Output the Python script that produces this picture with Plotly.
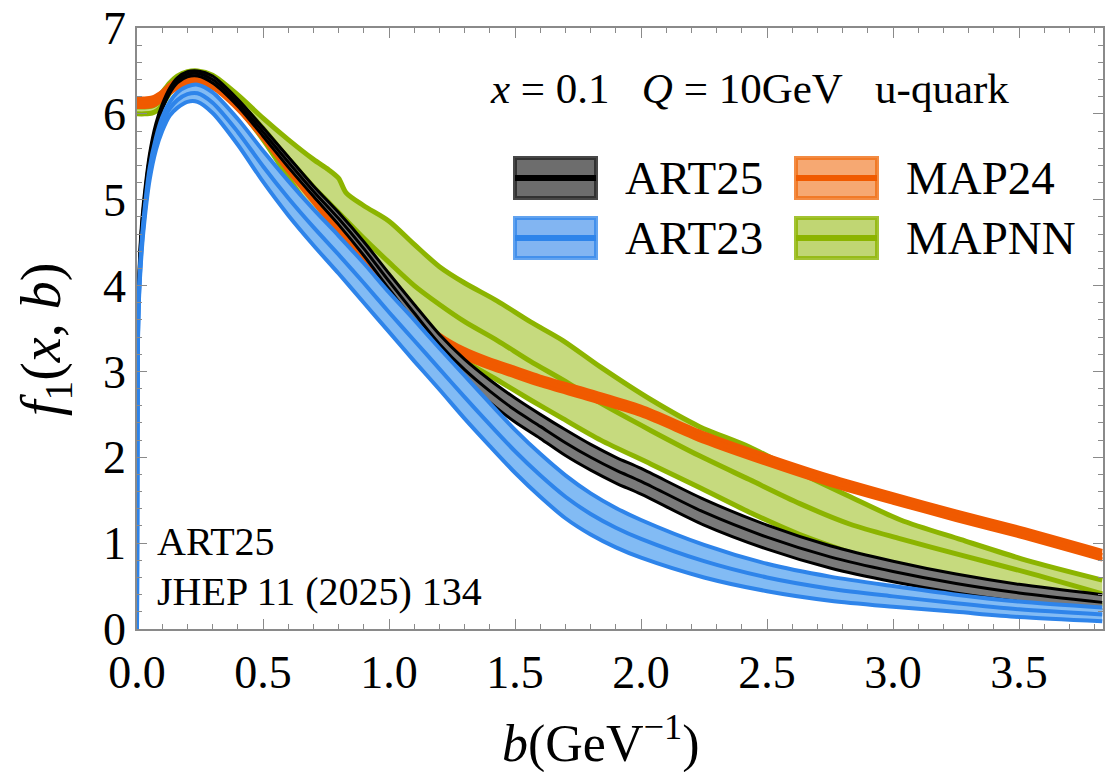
import plotly.graph_objects as go

# ---------------- data ----------------
b_art = [0, 0.003, 0.008, 0.015, 0.025, 0.05, 0.075, 0.1, 0.13, 0.16, 0.2, 0.24, 0.3, 0.4, 0.5,
         0.6, 0.7, 0.8, 0.9, 1.0, 1.1, 1.2, 1.3, 1.4, 1.5, 1.6, 1.7, 1.8, 1.9, 2.0, 2.25, 2.5,
         2.75, 3.0, 3.25, 3.5, 3.83]

art25_c = [0, 3.4, 4.1, 4.55, 4.9, 5.5, 5.85, 6.08, 6.27, 6.39, 6.46, 6.47, 6.40, 6.13, 5.79,
           5.44, 5.10, 4.78, 4.43, 4.05, 3.68, 3.32, 3.02, 2.77, 2.55, 2.36, 2.17, 2.00, 1.85,
           1.72, 1.36, 1.07, 0.84, 0.67, 0.53, 0.42, 0.31]
art25_hi = [0, 3.45, 4.15, 4.6, 4.95, 5.54, 5.89, 6.11, 6.30, 6.42, 6.49, 6.50, 6.44, 6.17, 5.84,
            5.50, 5.16, 4.85, 4.51, 4.14, 3.78, 3.43, 3.14, 2.90, 2.69, 2.50, 2.32, 2.15, 2.00,
            1.87, 1.51, 1.21, 0.97, 0.79, 0.64, 0.52, 0.40]
art25_lo = [0, 3.35, 4.05, 4.5, 4.85, 5.46, 5.81, 6.05, 6.24, 6.36, 6.43, 6.44, 6.36, 6.09, 5.74,
            5.38, 5.04, 4.71, 4.35, 3.96, 3.58, 3.21, 2.90, 2.64, 2.41, 2.22, 2.02, 1.85, 1.70,
            1.57, 1.21, 0.93, 0.71, 0.55, 0.42, 0.32, 0.22]

art23_c = [0, 3.2, 3.9, 4.3, 4.68, 5.3, 5.65, 5.88, 6.06, 6.16, 6.23, 6.24, 6.13, 5.79, 5.39,
           5.02, 4.68, 4.36, 4.03, 3.69, 3.36, 3.03, 2.70, 2.38, 2.07, 1.79, 1.54, 1.34, 1.18,
           1.05, 0.79, 0.60, 0.47, 0.38, 0.30, 0.23, 0.17]
art23_hi = [0, 3.25, 3.95, 4.36, 4.74, 5.37, 5.72, 5.96, 6.14, 6.25, 6.32, 6.34, 6.25, 5.94, 5.57,
            5.22, 4.89, 4.58, 4.26, 3.92, 3.60, 3.27, 2.95, 2.63, 2.32, 2.04, 1.79, 1.58, 1.41,
            1.27, 0.98, 0.76, 0.61, 0.50, 0.40, 0.32, 0.25]
art23_lo = [0, 3.15, 3.85, 4.24, 4.62, 5.23, 5.58, 5.80, 5.98, 6.07, 6.14, 6.14, 6.01, 5.64, 5.21,
            4.82, 4.47, 4.14, 3.80, 3.46, 3.12, 2.79, 2.45, 2.13, 1.82, 1.54, 1.29, 1.10, 0.95,
            0.83, 0.60, 0.44, 0.33, 0.26, 0.20, 0.14, 0.09]

b_map24 = [0, 0.03, 0.06, 0.08, 0.1, 0.13, 0.16, 0.2, 0.24, 0.3, 0.4, 0.5, 0.6, 0.7, 0.8, 0.9,
           1.0, 1.1, 1.2, 1.3, 1.4, 1.5, 1.6, 1.8, 2.0, 2.25, 2.5, 2.75, 3.0, 3.25, 3.5, 3.83]
map24_c = [6.13, 6.13, 6.14, 6.17, 6.21, 6.29, 6.35, 6.39, 6.40, 6.35, 6.10, 5.76, 5.38, 5.02,
           4.66, 4.30, 3.95, 3.63, 3.38, 3.21, 3.09, 2.99, 2.89, 2.72, 2.54, 2.23, 1.97, 1.73,
           1.52, 1.32, 1.13, 0.86]
map24_hi = [6.18, 6.18, 6.19, 6.22, 6.26, 6.34, 6.40, 6.44, 6.45, 6.40, 6.15, 5.81, 5.43, 5.07,
            4.71, 4.35, 4.00, 3.68, 3.43, 3.26, 3.14, 3.04, 2.94, 2.77, 2.59, 2.28, 2.02, 1.78,
            1.57, 1.37, 1.18, 0.91]
map24_lo = [6.08, 6.08, 6.09, 6.12, 6.16, 6.24, 6.30, 6.34, 6.35, 6.30, 6.05, 5.71, 5.33, 4.97,
            4.61, 4.25, 3.90, 3.58, 3.33, 3.16, 3.04, 2.94, 2.84, 2.67, 2.49, 2.18, 1.92, 1.68,
            1.47, 1.27, 1.08, 0.81]

b_mapnn = [0, 0.03, 0.06, 0.08, 0.1, 0.13, 0.16, 0.2, 0.24, 0.3, 0.4, 0.5, 0.6, 0.7, 0.76, 0.8,
           0.83, 0.9, 1.0, 1.1, 1.2, 1.3, 1.43, 1.56, 1.69, 1.84, 2.04, 2.23, 2.43, 2.63, 2.83,
           3.03, 3.27, 3.53, 3.83]
mapnn_hi = [6.15, 6.15, 6.16, 6.19, 6.25, 6.36, 6.44, 6.49, 6.50, 6.45, 6.22, 5.95, 5.70, 5.47,
            5.35, 5.25, 5.08, 4.93, 4.75, 4.48, 4.22, 4.03, 3.82, 3.58, 3.36, 3.05, 2.67, 2.36,
            2.12, 1.82, 1.54, 1.27, 1.04, 0.80, 0.57]
mapnn_c = [6.08, 6.08, 6.09, 6.12, 6.18, 6.30, 6.38, 6.43, 6.44, 6.39, 6.15, 5.83, 5.48, 5.15,
           4.97, 4.85, 4.76, 4.55, 4.27, 4.00, 3.78, 3.58, 3.36, 3.12, 2.90, 2.63, 2.31, 2.02,
           1.74, 1.46, 1.22, 1.05, 0.86, 0.66, 0.41]
mapnn_lo = [6.0, 6.0, 6.01, 6.04, 6.10, 6.24, 6.32, 6.37, 6.38, 6.32, 6.07, 5.70, 5.26, 4.83,
            4.58, 4.45, 4.35, 4.10, 3.80, 3.55, 3.33, 3.12, 2.90, 2.67, 2.45, 2.20, 1.92, 1.65,
            1.36, 1.10, 0.89, 0.70, 0.54, 0.41, 0.27]

series_names = ["ART25", "ART23", "MAP24", "MAPNN"]
x_ticks = [0.0, 0.5, 1.0, 1.5, 2.0, 2.5, 3.0, 3.5]
y_ticks = [0, 1, 2, 3, 4, 5, 6, 7]

# ---------------- styling ----------------
W, H = 1105, 772
L, R, T, B = 137, 2, 28, 143
SERIF = "Liberation Serif"

def px(x):
    return (x - L) / (W - L - R)

def py(y):
    return (H - B - y) / (H - T - B)

fig = go.Figure()

def band(b, lo, hi, ctr, edge, fill, ew, cw, name):
    common = dict(mode="lines", hoverinfo="skip", showlegend=False,
                  line_shape="spline")
    fig.add_trace(go.Scatter(x=b, y=lo, line=dict(color=edge, width=ew, smoothing=0.8),
                             name=name + " low", **common))
    fig.add_trace(go.Scatter(x=b, y=hi, line=dict(color=edge, width=ew, smoothing=0.8),
                             fill="tonexty", fillcolor=fill, name=name + " high", **common))
    fig.add_trace(go.Scatter(x=b, y=ctr, line=dict(color=edge, width=cw, smoothing=0.8),
                             name=name, **common))

GREEN, GREEN_F = "#8CB400", "#C6DA7E"
ORANGE, ORANGE_F = "#F05A00", "#F05A00"
BLACK, BLACK_F = "#000000", "#7A7A7A"
BLUE, BLUE_F = "#2E84EA", "#82BBF4"

band(b_mapnn, mapnn_lo, mapnn_hi, mapnn_c, GREEN, GREEN_F, 5, 5, "MAPNN")
band(b_map24, map24_lo, map24_hi, map24_c, ORANGE, ORANGE_F, 4, 4, "MAP24")
band(b_art, art25_lo, art25_hi, art25_c, BLACK, BLACK_F, 3, 3, "ART25")
band(b_art, art23_lo, art23_hi, art23_c, BLUE, BLUE_F, 4, 4, "ART23")

axis_common = dict(showgrid=False, zeroline=False, showline=True, linecolor="#8a8a8a",
                   linewidth=1.5, mirror="ticks", ticks="inside", ticklen=10, tickwidth=1.2,
                   tickcolor="#8a8a8a",
                   tickfont=dict(family=SERIF, size=46, color="black"))
fig.update_xaxes(range=[0, 3.833], tickvals=x_ticks, ticktext=[f"{v:.1f}" for v in x_ticks],
                 minor=dict(dtick=0.1, ticklen=5, ticks="inside", tickcolor="#8a8a8a",
                            tickwidth=1.0),
                 ticklabelstandoff=2,
                 **axis_common)
fig.update_yaxes(range=[0, 7], tickvals=y_ticks, ticktext=[str(v) for v in y_ticks],
                 minor=dict(dtick=0.2, ticklen=5, ticks="inside", tickcolor="#8a8a8a",
                            tickwidth=1.0),
                 **axis_common)

ann = []
# axis titles
ann.append(dict(x=px(601), y=py(740), xref="paper", yref="paper", showarrow=False,
                text="<i>b</i>(GeV<sup>−1</sup>)", font=dict(family=SERIF, size=52, color="black"),
                xanchor="center", yanchor="middle"))
ann.append(dict(x=px(45), y=py(340), xref="paper", yref="paper", showarrow=False,
                text="<i>f</i><sub>1</sub>(<i>x</i>, <i>b</i>)", textangle=-90,
                font=dict(family=SERIF, size=56, color="black"),
                xanchor="center", yanchor="middle"))
# top-right label
ann.append(dict(x=px(488), y=py(88), xref="paper", yref="paper", showarrow=False,
                text="<i>x</i> = 0.1&nbsp;&nbsp;&nbsp;<i>Q</i> = 10GeV&nbsp;&nbsp;&nbsp;u-quark",
                font=dict(family=SERIF, size=43, color="black"),
                xanchor="left", yanchor="middle"))
# bottom-left label
ann.append(dict(x=px(155), y=py(541), xref="paper", yref="paper", showarrow=False,
                text="ART25", font=dict(family=SERIF, size=40, color="black"),
                xanchor="left", yanchor="middle"))
ann.append(dict(x=px(155), y=py(591), xref="paper", yref="paper", showarrow=False,
                text="JHEP 11 (2025) 134", font=dict(family=SERIF, size=40, color="black"),
                xanchor="left", yanchor="middle"))

# custom legend
shapes = []
legend_items = [
    ("ART25", 515, 178, "rgba(40,40,40,0.85)", "rgba(60,60,60,0.75)", "#000000"),
    ("ART23", 515, 238, "rgba(46,132,234,0.75)", "rgba(46,132,234,0.6)", BLUE),
    ("MAP24", 796, 178, "rgba(240,110,20,0.8)", "rgba(240,110,20,0.6)", ORANGE),
    ("MAPNN", 796, 238, "rgba(140,180,0,0.8)", "rgba(140,180,0,0.55)", GREEN),
]
for name, x0, yc, border, fillc, linec in legend_items:
    shapes.append(dict(type="rect", xref="paper", yref="paper",
                       x0=px(x0), x1=px(x0 + 81), y0=py(yc - 20), y1=py(yc + 20),
                       line=dict(color=border, width=4), fillcolor=fillc, layer="above"))
    shapes.append(dict(type="line", xref="paper", yref="paper",
                       x0=px(x0), x1=px(x0 + 81), y0=py(yc), y1=py(yc),
                       line=dict(color=linec, width=6), layer="above"))
    ann.append(dict(x=px(x0 + 108), y=py(yc), xref="paper", yref="paper", showarrow=False,
                    text=name, font=dict(family=SERIF, size=47, color="black"),
                    xanchor="left", yanchor="middle"))

fig.update_layout(width=W, height=H, margin=dict(l=L, r=R, t=T, b=B, autoexpand=False),
                  paper_bgcolor="white", plot_bgcolor="white", showlegend=False,
                  annotations=ann, shapes=shapes)

fig.write_html("out.html")
